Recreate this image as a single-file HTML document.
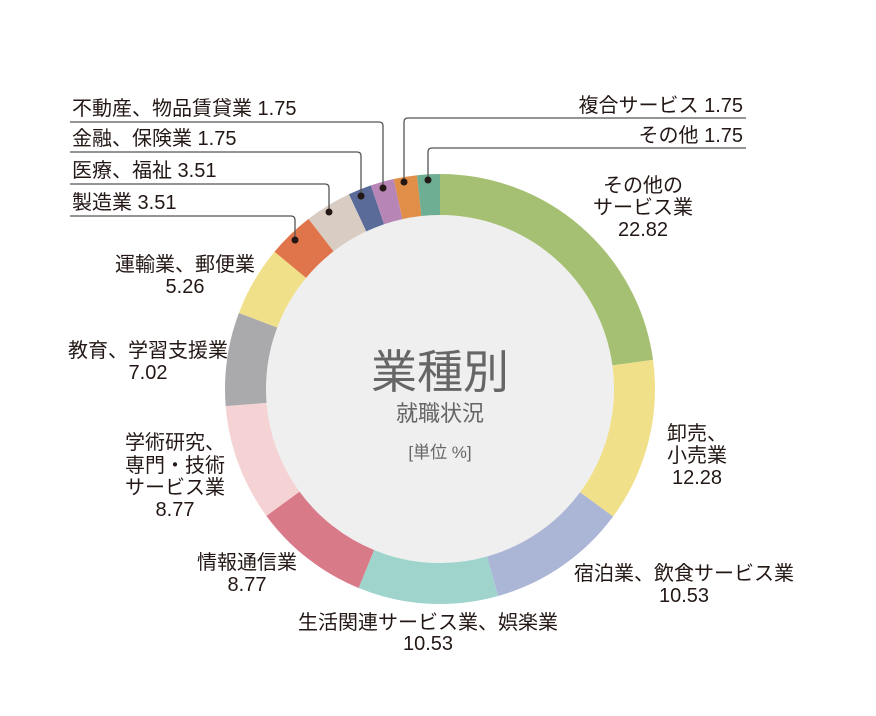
<!DOCTYPE html>
<html><head><meta charset="utf-8"><style>
html,body{margin:0;padding:0;background:#fff;}
svg{display:block;}
text{font-family:"Liberation Sans","Noto Sans CJK JP",sans-serif;fill:#231815;font-size:20px;}
</style></head><body>
<svg width="876" height="716" viewBox="0 0 876 716">
<circle cx="440" cy="389" r="174" fill="#efefef"/>
<g transform="rotate(-90 440 389)" fill="none" stroke-width="41">
<circle cx="440" cy="389" r="194.5" stroke="#a5c073" stroke-dasharray="278.9 2000" stroke-dashoffset="0"/>
<circle cx="440" cy="389" r="194.5" stroke="#f1e08a" stroke-dasharray="150.1 2000" stroke-dashoffset="-278.9"/>
<circle cx="440" cy="389" r="194.5" stroke="#abb6d7" stroke-dasharray="128.7 2000" stroke-dashoffset="-428.9"/>
<circle cx="440" cy="389" r="194.5" stroke="#9fd4cc" stroke-dasharray="128.7 2000" stroke-dashoffset="-557.6"/>
<circle cx="440" cy="389" r="194.5" stroke="#d97a89" stroke-dasharray="107.2 2000" stroke-dashoffset="-686.3"/>
<circle cx="440" cy="389" r="194.5" stroke="#f5d3d5" stroke-dasharray="107.2 2000" stroke-dashoffset="-793.5"/>
<circle cx="440" cy="389" r="194.5" stroke="#aaaaad" stroke-dasharray="85.8 2000" stroke-dashoffset="-900.7"/>
<circle cx="440" cy="389" r="194.5" stroke="#f1e08a" stroke-dasharray="64.3 2000" stroke-dashoffset="-986.5"/>
<circle cx="440" cy="389" r="194.5" stroke="#e0744b" stroke-dasharray="42.9 2000" stroke-dashoffset="-1050.8"/>
<circle cx="440" cy="389" r="194.5" stroke="#d9cdc3" stroke-dasharray="42.9 2000" stroke-dashoffset="-1093.6"/>
<circle cx="440" cy="389" r="194.5" stroke="#5a6a99" stroke-dasharray="21.4 2000" stroke-dashoffset="-1136.5"/>
<circle cx="440" cy="389" r="194.5" stroke="#b886b6" stroke-dasharray="21.4 2000" stroke-dashoffset="-1157.9"/>
<circle cx="440" cy="389" r="194.5" stroke="#e08e48" stroke-dasharray="21.4 2000" stroke-dashoffset="-1179.3"/>
<circle cx="440" cy="389" r="194.5" stroke="#6eaf93" stroke-dasharray="21.4 2000" stroke-dashoffset="-1200.7"/>
</g>
<g fill="none" stroke="#555" stroke-width="1.3">
<path d="M70 122 H379 Q383 122 383 126 V188"/>
<path d="M70 152 H357 Q361 152 361 156 V196"/>
<path d="M70 184 H325 Q329 184 329 188 V212"/>
<path d="M70 216 H291 Q295 216 295 220 V240"/>
<path d="M746 118 H408 Q404 118 404 122 V182"/>
<path d="M746 148 H432 Q428 148 428 152 V180"/>
</g>
<g fill="#231815">
<circle cx="383" cy="188" r="3.5"/><circle cx="361" cy="196" r="3.5"/>
<circle cx="329" cy="212" r="3.5"/><circle cx="295" cy="240" r="3.5"/>
<circle cx="404" cy="182" r="3.5"/><circle cx="428" cy="180" r="3.5"/>
</g>
<text x="72" y="115">不動産、物品賃貸業 1.75</text>
<text x="72" y="145">金融、保険業 1.75</text>
<text x="72" y="177">医療、福祉 3.51</text>
<text x="72" y="209">製造業 3.51</text>
<text x="743" y="112" text-anchor="end">複合サービス 1.75</text>
<text x="743" y="142" text-anchor="end">その他 1.75</text>
<g text-anchor="middle">
<text x="643" y="192">その他の</text><text x="643" y="214">サービス業</text><text x="643" y="236">22.82</text>
<text x="697" y="440">卸売、</text><text x="697" y="462">小売業</text><text x="697" y="484">12.28</text>
<text x="684" y="580">宿泊業、飲食サービス業</text><text x="684" y="602">10.53</text>
<text x="428" y="629">生活関連サービス業、娯楽業</text><text x="428" y="650">10.53</text>
<text x="247" y="569">情報通信業</text><text x="247" y="591">8.77</text>
<text x="175" y="449">学術研究、</text><text x="175" y="472">専門・技術</text><text x="175" y="494">サービス業</text><text x="175" y="516">8.77</text>
<text x="148" y="357">教育、学習支援業</text><text x="148" y="379">7.02</text>
<text x="185" y="271">運輸業、郵便業</text><text x="185" y="293">5.26</text>
<text x="440" y="388" style="font-size:46px;fill:#666">業種別</text>
<text x="440" y="421" style="font-size:22px;fill:#666">就職状況</text>
<text x="440" y="458" style="font-size:17px;fill:#666">[単位 %]</text>
</g>
</svg>
</body></html>
